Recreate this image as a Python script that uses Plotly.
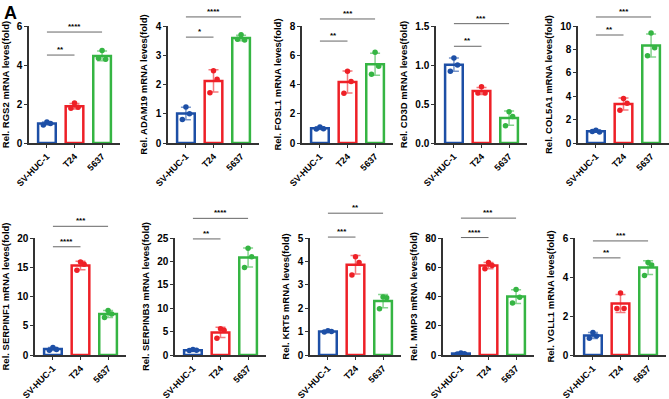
import numpy as np
import plotly.graph_objects as go

groups = ["SV-HUC-1", "T24", "5637"]
genes = ["RGS2", "ADAM19", "FOSL1", "CD3D", "COL5A1",
         "SERPINF1", "SERPINB3", "KRT5", "MMP3", "VGLL1"]

# replicate values per gene: [SV-HUC-1, T24, 5637]
rgs2 = [[0.92, 1.08, 1.00], [1.78, 2.05, 1.83], [4.35, 4.75, 4.30]]
adam19 = [[0.80, 1.23, 1.00], [1.72, 2.47, 2.18], [3.55, 3.70, 3.52]]
fosl1 = [[0.95, 1.10, 0.97], [3.40, 4.90, 4.20], [4.70, 6.20, 5.25]]
cd3d = [[0.92, 1.09, 1.00], [0.64, 0.72, 0.64], [0.22, 0.40, 0.34]]
col5a1 = [[0.98, 1.10, 0.95], [2.80, 3.80, 3.40], [7.45, 9.40, 8.15]]
serpinf1 = [[0.80, 1.30, 0.95], [14.5, 15.9, 15.5], [6.40, 7.60, 7.00]]
serpinb3 = [[0.95, 1.15, 1.00], [3.60, 5.60, 5.30], [18.7, 22.8, 21.0]]
krt5 = [[0.98, 1.04, 1.00], [3.42, 4.20, 3.95], [1.98, 2.48, 2.45]]
mmp3 = [[0.70, 1.40, 0.90], [59.0, 63.3, 61.2], [35.5, 44.8, 39.5]]
vgll1 = [[0.86, 1.16, 0.97], [2.38, 3.18, 2.38], [4.08, 4.75, 4.62]]
values = [rgs2, adam19, fosl1, cd3d, col5a1, serpinf1, serpinb3, krt5, mmp3, vgll1]

y_top = [6, 4, 8, 1.5, 10, 20, 25, 5, 80, 6]
y_dtick = [2, 1, 2, 0.5, 2, 5, 5, 1, 20, 2]

sig_short = ["**", "*", "**", "**", "**", "****", "**", "***", "****", "**"]
sig_long = ["****", "****", "***", "***", "***", "***", "****", "**", "***", "***"]
sig_short_y = [4.51, 3.62, 6.97, 1.24, 9.23, 18.5, 24.8, 5.04, 80.3, 4.98]
sig_long_y = [5.69, 4.31, 8.48, 1.53, 10.77, 22.0, 29.2, 6.06, 93.6, 5.85]

# ---- styles / layout ----
W, H = 669, 399
colors = ["#1d4fa6", "#ee2027", "#35b543"]
err_colors = ["rgba(29,79,166,0.6)", "rgba(238,32,39,0.6)", "rgba(53,181,67,0.6)"]
JITTER = [-0.13, 0.0, 0.13]
axis_left_px = [29, 168, 302, 436, 578, 35, 175, 310, 443, 575]
AXIS_W = 91
row_y_px = [(143, 26), (355, 238)]  # (baseline, top) in pixels
XR = [-0.65, 2.65]
FONT = "Liberation Sans"

fig = go.Figure()
layout = {}
for i, gene in enumerate(genes):
    k = "" if i == 0 else str(i + 1)
    xa, ya = "x" + k, "y" + k
    vals = values[i]
    for g in range(3):
        v = np.array(vals[g])
        fig.add_trace(go.Bar(
            x=[g], y=[v.mean()], xaxis=xa, yaxis=ya, width=0.64,
            marker=dict(color="white", line=dict(color=colors[g], width=2.5)),
            error_y=dict(type="data", array=[v.std(ddof=1)], color=err_colors[g],
                         thickness=1.5, width=5),
            showlegend=False, hoverinfo="skip"))
        fig.add_trace(go.Scatter(
            x=[g + j for j in JITTER], y=list(v), xaxis=xa, yaxis=ya, mode="markers",
            marker=dict(color=colors[g], size=5.5), showlegend=False,
            cliponaxis=False, hoverinfo="skip"))
    row = i // 5
    base, top = row_y_px[row]
    left = axis_left_px[i]
    right = min(left + AXIS_W, W)
    layout["xaxis" + k] = dict(
        domain=[left / W, right / W], range=XR, anchor=ya, automargin=False,
        tickvals=[0, 1, 2], ticktext=groups, tickangle=-45,
        showline=True, linecolor="#333333", linewidth=1.5,
        ticks="outside", ticklen=3, tickwidth=1.2, tickcolor="#333333",
        showgrid=False, zeroline=False,
        tickfont=dict(family=FONT, size=9, color="black", weight="bold"))
    layout["yaxis" + k] = dict(
        domain=[1 - base / H, 1 - top / H], range=[0, y_top[i]], anchor=xa,
        automargin=False,
        tick0=0, dtick=y_dtick[i], tickformat=".1f" if y_top[i] < 2 else "",
        showline=True, linecolor="#333333", linewidth=1.5,
        ticks="outside", ticklen=3, tickwidth=1.2, tickcolor="#333333",
        showgrid=False, zeroline=False,
        tickfont=dict(family=FONT, size=10, color="black", weight="bold"),
        title=dict(text=f"Rel. {gene} mRNA leves(fold)", standoff=6,
                   font=dict(family=FONT, size=9.5, color="black", weight="bold")))

    # significance brackets
    def xd(v):
        return (v - XR[0]) / (XR[1] - XR[0])
    for (x0, x1, yv, txt) in [(0, 1, sig_short_y[i], sig_short[i]),
                              (0, 2, sig_long_y[i], sig_long[i])]:
        fy = yv / y_top[i]
        fig.add_shape(type="line", xref=xa + " domain", yref=ya + " domain",
                      x0=xd(x0), x1=xd(x1), y0=fy, y1=fy,
                      line=dict(color="#666666", width=1))
        fig.add_annotation(xref=xa + " domain", yref=ya + " domain",
                           x=(xd(x0) + xd(x1)) / 2, y=fy, text=txt, showarrow=False,
                           yanchor="bottom", yshift=-1,
                           font=dict(family=FONT, size=8, color="black", weight="bold"))

fig.add_annotation(xref="paper", yref="paper", x=2 / W, y=1 - 1 / H, text="A",
                   showarrow=False, xanchor="left", yanchor="top",
                   font=dict(family=FONT, size=18, color="black", weight="bold"))

fig.update_layout(**layout)
fig.update_layout(template="none", width=W, height=H,
                  margin=dict(l=0, r=0, t=0, b=0, autoexpand=False),
                  barmode="overlay", plot_bgcolor="white", paper_bgcolor="white",
                  showlegend=False)
fig.write_html("out.html")
